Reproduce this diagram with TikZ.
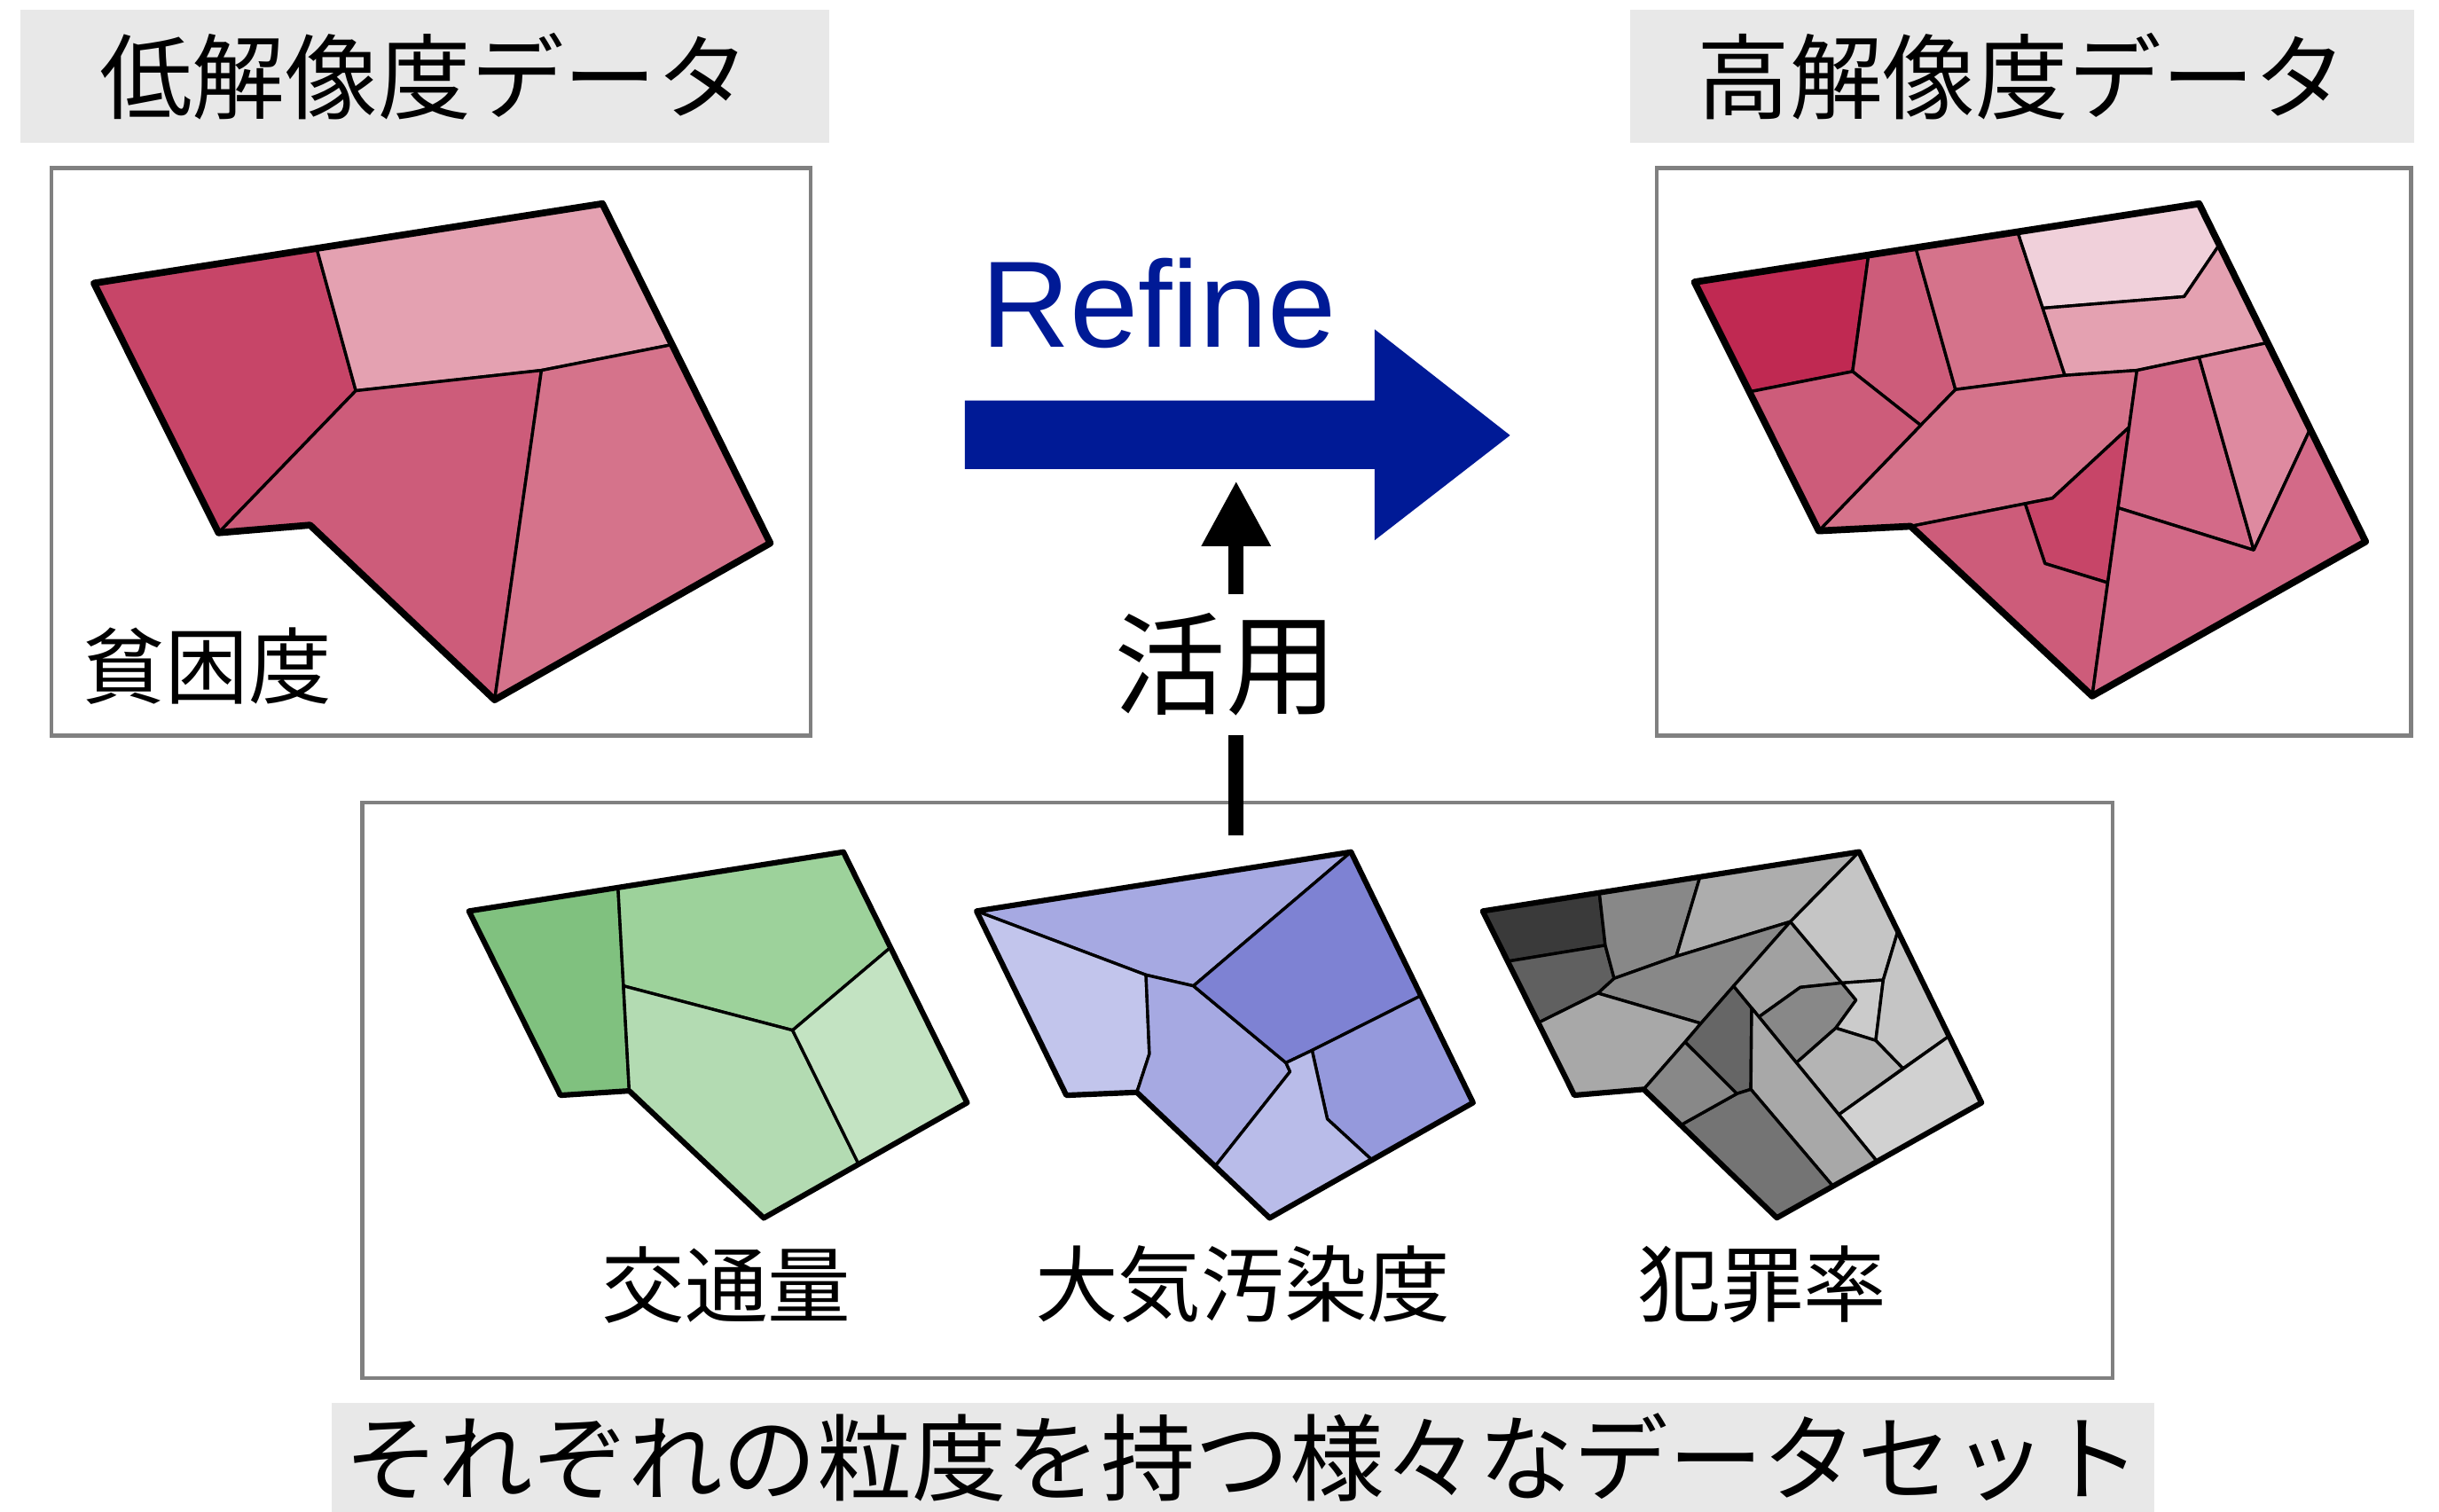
\documentclass[tikz,border=0pt]{standalone}
\usepackage{fontspec}
\newfontfamily\jpfont{Noto Sans CJK JP}
\newfontfamily\latinsans{Liberation Sans}
\usetikzlibrary{arrows.meta}

% pink shades (poverty)
\definecolor{pkA}{HTML}{C02952}
\definecolor{pkB}{HTML}{C74568}
\definecolor{pkC}{HTML}{CD5C7A}
\definecolor{pkD}{HTML}{D5738B}
\definecolor{pkE}{HTML}{DE8AA0}
\definecolor{pkF}{HTML}{E4A1B1}
\definecolor{pkG}{HTML}{F0D0DA}
\definecolor{pkH}{HTML}{D36A88}
% green shades (traffic)
\definecolor{gnA}{HTML}{80C17F}
\definecolor{gnB}{HTML}{9DD29B}
\definecolor{gnC}{HTML}{B3DBB2}
\definecolor{gnD}{HTML}{C3E3C2}
% purple shades (air pollution)
\definecolor{puA}{HTML}{7E82D3}
\definecolor{puB}{HTML}{9599DC}
\definecolor{puC}{HTML}{A6A9E2}
\definecolor{puD}{HTML}{B9BCE9}
\definecolor{puE}{HTML}{C2C5EC}
% gray shades (crime)
\definecolor{gyA}{HTML}{3A3A3A}
\definecolor{gyB}{HTML}{606060}
\definecolor{gyC}{HTML}{666666}
\definecolor{gyD}{HTML}{747474}
\definecolor{gyE}{HTML}{888888}
\definecolor{gyF}{HTML}{A1A1A1}
\definecolor{gyG}{HTML}{A8A8A8}
\definecolor{gyH}{HTML}{ADADAD}
\definecolor{gyI}{HTML}{B4B4B4}
\definecolor{gyJ}{HTML}{C5C5C5}
\definecolor{gyK}{HTML}{CBCBCB}
\definecolor{gyL}{HTML}{D1D1D1}
% others
\definecolor{boxgray}{HTML}{E8E8E8}
\definecolor{framegray}{HTML}{808080}
\definecolor{refineblue}{HTML}{001A96}

\begin{document}
\begin{tikzpicture}[x=0.1mm,y=-0.1mm,
  titlebox/.style={fill=boxgray, inner sep=0pt, font=\jpfont\fontsize{17}{17}\selectfont},
  frame/.style={draw=framegray, line width=0.7pt, inner sep=0pt},
  label/.style={inner sep=0pt, font=\jpfont\fontsize{15.2}{15.2}\selectfont},
  cell/.style={draw=black, line width=0.55pt, line join=round},
  bigborder/.style={draw=black, line width=1.25pt, line join=round},
  smallborder/.style={draw=black, line width=1.0pt, line join=round},
  usearrow/.style={line width=0.97mm}]
\useasboundingbox (0,0) rectangle (1568,972);

% ---------- headings ----------
\node[titlebox, minimum width=52mm, minimum height=8.6mm] (lowTitle) at (273,49) {低解像度データ};
\node[titlebox, minimum width=50.4mm, minimum height=8.6mm] (highTitle) at (1300,49) {高解像度データ};
\node[titlebox, minimum width=117.2mm, minimum height=7.0mm,
      font=\jpfont\fontsize{17.3}{17.3}\selectfont] (setTitle) at (799,937) {それぞれの粒度を持つ様々なデータセット};

% ---------- frames ----------
\node[frame, minimum width=48.8mm, minimum height=36.5mm] (lowFrame) at (277,290.5) {};
\node[frame, minimum width=48.5mm, minimum height=36.5mm] (highFrame) at (1307.5,290.5) {};
\node[frame, minimum width=112.5mm, minimum height=37mm] (setFrame) at (795.5,701) {};

% ---------- low resolution map ----------
\begin{scope}[shift={(22.8,96.9)}, xscale=0.3269, yscale=0.2469]
  \coordinate (lTL) at (115,345);  \coordinate (lTR) at (1115,138);
  \coordinate (lR) at (1445,1022); \coordinate (lB) at (903,1430);
  \coordinate (lNR) at (540,975);  \coordinate (lNL) at (360,995);
  \coordinate (lA) at (553,254.3); \coordinate (lC) at (630,625);
  \coordinate (lD) at (995,572);   \coordinate (lE) at (1252,505);
\end{scope}
\filldraw[cell, fill=pkB] (lTL) -- (lA) -- (lC) -- (lNL) -- cycle;
\filldraw[cell, fill=pkF] (lA) -- (lTR) -- (lE) -- (lD) -- (lC) -- cycle;
\filldraw[cell, fill=pkC] (lC) -- (lD) -- (lB) -- (lNR) -- (lNL) -- cycle;
\filldraw[cell, fill=pkD] (lD) -- (lE) -- (lR) -- (lB) -- cycle;
\draw[bigborder] (lTL) -- (lTR) -- (lR) -- (lB) -- (lNR) -- (lNL) -- cycle;
\node[label] (povLabel) at (133,428) {貧困度};

% ---------- high resolution map ----------
\begin{scope}[shift={(1060.6,96.9)}, xscale=0.3196, yscale=0.2469]
  \coordinate (rTL) at (90,342);   \coordinate (rTR) at (1105,138);
  \coordinate (rR) at (1440,1018); \coordinate (rB) at (890,1420);
  \coordinate (rNR) at (525,978);  \coordinate (rNL) at (340,990);
  \coordinate (rP1) at (440,271.7); \coordinate (rP2) at (408,575);
  \coordinate (rP3) at (200.3,628); \coordinate (rP4) at (535,252.6);
  \coordinate (rP5) at (615,622);   \coordinate (rP6) at (545,715);
  \coordinate (rP7) at (740,211.4); \coordinate (rP8) at (835,585);
  \coordinate (rQ1) at (1145.7,245); \coordinate (rQ2) at (1075,380);
  \coordinate (rQ3) at (790.5,410);  \coordinate (rQ4) at (1242.8,500);
  \coordinate (rQ5) at (980,572);
  \coordinate (rR1) at (964.3,720); \coordinate (rR2) at (810,905);
  \coordinate (rS1) at (755,919.1); \coordinate (rS2) at (795,1075);
  \coordinate (rS3) at (921.3,1125);
  \coordinate (rT1) at (1105,537.8); \coordinate (rT2) at (1215,1040);
  \coordinate (rT3) at (942,930);    \coordinate (rT4) at (1328.5,725);
\end{scope}
\filldraw[cell, fill=pkA] (rTL) -- (rP1) -- (rP2) -- (rP3) -- cycle;
\filldraw[cell, fill=pkC] (rP1) -- (rP4) -- (rP5) -- (rP6) -- (rP2) -- cycle;
\filldraw[cell, fill=pkD] (rP4) -- (rP7) -- (rQ3) -- (rP8) -- (rP5) -- cycle;
\filldraw[cell, fill=pkG] (rP7) -- (rTR) -- (rQ1) -- (rQ2) -- (rQ3) -- cycle;
\filldraw[cell, fill=pkF] (rQ3) -- (rQ2) -- (rQ1) -- (rQ4) -- (rT1) -- (rQ5) -- (rP8) -- cycle;
\filldraw[cell, fill=pkD] (rP5) -- (rP8) -- (rQ5) -- (rR1) -- (rR2) -- (rS1) -- (rNR) -- (rNL) -- (rP6) -- cycle;
\filldraw[cell, fill=pkC] (rP3) -- (rP2) -- (rP6) -- (rNL) -- cycle;
\filldraw[cell, fill=pkB] (rR1) -- (rR2) -- (rS1) -- (rS2) -- (rS3) -- cycle;
\filldraw[cell, fill=pkC] (rNR) -- (rS1) -- (rS2) -- (rS3) -- (rB) -- cycle;
\filldraw[cell, fill=pkH] (rQ5) -- (rT1) -- (rT2) -- (rT3) -- cycle;
\filldraw[cell, fill=pkE] (rT1) -- (rQ4) -- (rT4) -- (rT2) -- cycle;
\filldraw[cell, fill=pkH] (rT3) -- (rT2) -- (rT4) -- (rR) -- (rB) -- (rS3) -- cycle;
\draw[bigborder] (rTL) -- (rTR) -- (rR) -- (rB) -- (rNR) -- (rNL) -- cycle;

% ---------- traffic map ----------
\begin{scope}[shift={(285.1,536)}, xscale=0.2179, yscale=0.1901]
  \coordinate (gTL) at (75,262);   \coordinate (gTR) at (1180,62);
  \coordinate (gR) at (1545,910);  \coordinate (gB) at (945,1300);
  \coordinate (gNR) at (548,870);  \coordinate (gNL) at (345,885);
  \coordinate (gA) at (515,182.4); \coordinate (gG1) at (531,515);
  \coordinate (gG2) at (1030,665); \coordinate (gG3) at (1319,385);
  \coordinate (gG4) at (1225,1118);
\end{scope}
\filldraw[cell, fill=gnA] (gTL) -- (gA) -- (gG1) -- (gNR) -- (gNL) -- cycle;
\filldraw[cell, fill=gnB] (gA) -- (gTR) -- (gG3) -- (gG2) -- (gG1) -- cycle;
\filldraw[cell, fill=gnC] (gG1) -- (gG2) -- (gG4) -- (gB) -- (gNR) -- cycle;
\filldraw[cell, fill=gnD] (gG2) -- (gG3) -- (gR) -- (gG4) -- cycle;
\draw[smallborder] (gTL) -- (gTR) -- (gR) -- (gB) -- (gNR) -- (gNL) -- cycle;
\node[label] (trafficLabel) at (467,826) {交通量};

% ---------- air pollution map ----------
\begin{scope}[shift={(615.8,536)}, xscale=0.2179, yscale=0.1901]
  \coordinate (pTL) at (55,262);   \coordinate (pTR) at (1160,62);
  \coordinate (pR) at (1520,910);  \coordinate (pB) at (920,1300);
  \coordinate (pNR) at (528,875);  \coordinate (pNL) at (320,885);
  \coordinate (pU1) at (555,478);  \coordinate (pU2) at (695,515);
  \coordinate (pU3) at (980,805);  \coordinate (pU4) at (968,775);
  \coordinate (pV1) at (565,745);  \coordinate (pV2) at (759,1125);
  \coordinate (pV3) at (1045,733); \coordinate (pV4) at (1090,965);
  \coordinate (pV5) at (1222,1104); \coordinate (pW) at (1366,548);
\end{scope}
\filldraw[cell, fill=puC] (pTL) -- (pTR) -- (pU2) -- (pU1) -- cycle;
\filldraw[cell, fill=puE] (pTL) -- (pU1) -- (pV1) -- (pNR) -- (pNL) -- cycle;
\filldraw[cell, fill=puC] (pU1) -- (pU2) -- (pU4) -- (pU3) -- (pV2) -- (pNR) -- (pV1) -- cycle;
\filldraw[cell, fill=puA] (pU2) -- (pTR) -- (pW) -- (pV3) -- (pU4) -- cycle;
\filldraw[cell, fill=puB] (pV3) -- (pW) -- (pR) -- (pV5) -- (pV4) -- cycle;
\filldraw[cell, fill=puD] (pU4) -- (pV3) -- (pV4) -- (pV5) -- (pB) -- (pV2) -- (pU3) -- cycle;
\draw[smallborder] (pTL) -- (pTR) -- (pR) -- (pB) -- (pNR) -- (pNL) -- cycle;
\node[label] (airLabel) at (799,826) {大気汚染度};

% ---------- crime map ----------
\coordinate (kTL) at (953.2,585.8);  \coordinate (kTR) at (1195.2,547.7);
\coordinate (kR) at (1273.9,709);    \coordinate (kB) at (1142.3,783);
\coordinate (kNR) at (1056.7,700.4); \coordinate (kNL) at (1012.1,704.2);
\coordinate (kK1) at (1028.2,574.0); \coordinate (kK2) at (1032.0,607.8);
\coordinate (kK3) at (969.3,618.1);  \coordinate (kK4) at (1037.7,629.1);
\coordinate (kK5) at (1027.3,638.6); \coordinate (kK6) at (988.9,657.6);
\coordinate (kK7) at (1092.9,563.8); \coordinate (kK8) at (1077.6,614.9);
\coordinate (kK9) at (1151.0,592.6); \coordinate (kK10) at (1083.3,670.0);
\coordinate (kK11) at (1093.5,658.0); \coordinate (kK12) at (1114.5,634.0);
\coordinate (kN1) at (1126.1,648.1); \coordinate (kN2) at (1130.8,653.8);
\coordinate (kN3) at (1154.9,683.3); \coordinate (kN4) at (1182.2,716.6);
\coordinate (kN5) at (1125.6,700.4); \coordinate (kN6) at (1116.6,703.2);
\coordinate (kN7) at (1080.5,723.4); \coordinate (kN8) at (1178.4,762.7);
\coordinate (kN9) at (1157.4,634.8); \coordinate (kN10) at (1184.1,632.0);
\coordinate (kN11) at (1193.2,643.0); \coordinate (kN12) at (1180.2,661.0);
\coordinate (kN13) at (1210.7,630.1); \coordinate (kN14) at (1220.1,598.7);
\coordinate (kN15) at (1205.9,669.0); \coordinate (kN16) at (1223.4,687.0);
\coordinate (kN17) at (1253.0,666.2); \coordinate (kM) at (1206.6,746.6);
\filldraw[cell, fill=gyA] (kTL) -- (kK1) -- (kK2) -- (kK3) -- cycle;
\filldraw[cell, fill=gyB] (kK3) -- (kK2) -- (kK4) -- (kK5) -- (kK6) -- cycle;
\filldraw[cell, fill=gyE] (kK1) -- (kK7) -- (kK8) -- (kK4) -- (kK2) -- cycle;
\filldraw[cell, fill=gyH] (kK7) -- (kTR) -- (kK9) -- (kK8) -- cycle;
\filldraw[cell, fill=gyE] (kK4) -- (kK8) -- (kK9) -- (kK12) -- (kK11) -- (kK5) -- cycle;
\filldraw[cell, fill=gyG] (kK6) -- (kK5) -- (kK11) -- (kK10) -- (kNR) -- (kNL) -- cycle;
\filldraw[cell, fill=gyC] (kK12) -- (kN1) -- (kN5) -- (kN6) -- (kK10) -- (kK11) -- cycle;
\filldraw[cell, fill=gyF] (kK12) -- (kK9) -- (kN10) -- (kN9) -- (kN2) -- cycle;
\filldraw[cell, fill=gyE] (kN2) -- (kN9) -- (kN10) -- (kN11) -- (kN12) -- (kN3) -- cycle;
\filldraw[cell, fill=gyJ] (kK9) -- (kTR) -- (kN14) -- (kN13) -- (kN10) -- cycle;
\filldraw[cell, fill=gyK] (kN10) -- (kN13) -- (kN15) -- (kN12) -- (kN11) -- cycle;
\filldraw[cell, fill=gyJ] (kN14) -- (kN17) -- (kN16) -- (kN15) -- (kN13) -- cycle;
\filldraw[cell, fill=gyI] (kN3) -- (kN12) -- (kN15) -- (kN16) -- (kN4) -- cycle;
\filldraw[cell, fill=gyL] (kN4) -- (kN17) -- (kR) -- (kM) -- cycle;
\filldraw[cell, fill=gyG] (kN1) -- (kM) -- (kN8) -- (kN5) -- cycle;
\filldraw[cell, fill=gyD] (kN5) -- (kN8) -- (kB) -- (kN7) -- (kN6) -- cycle;
\filldraw[cell, fill=gyE] (kK10) -- (kN6) -- (kN7) -- (kNR) -- cycle;
\draw[smallborder] (kTL) -- (kTR) -- (kR) -- (kB) -- (kNR) -- (kNL) -- cycle;
\node[label] (crimeLabel) at (1133,826) {犯罪率};

% ---------- refine arrow ----------
\fill[refineblue] (620.3,257.5) -- (883.7,257.5) -- (883.7,211.7) -- (970.8,279.9)
  -- (883.7,347.4) -- (883.7,301.6) -- (620.3,301.6) -- cycle;
\coordinate (refineBottom) at (794.7,309.2);
\node[anchor=base west, inner sep=0pt, text=refineblue,
      font=\latinsans\fontsize{22.5}{22.5}\selectfont] (refineText) at (630,223.4) {Refine};

% ---------- "use" arrow from the data sets ----------
\coordinate (useSrc) at (794.7,537);
\node[inner sep=0pt, minimum height=8.95mm,
      font=\jpfont\fontsize{20.4}{20.4}\selectfont] (useLabel) at (788,427.3) {活用};
\draw[usearrow] (useSrc) -- (useSrc |- useLabel.south);
\draw[usearrow, -{Triangle[length=4.2mm,width=4.2mm]}] (useSrc |- useLabel.north) -- (refineBottom);

\end{tikzpicture}
\end{document}
